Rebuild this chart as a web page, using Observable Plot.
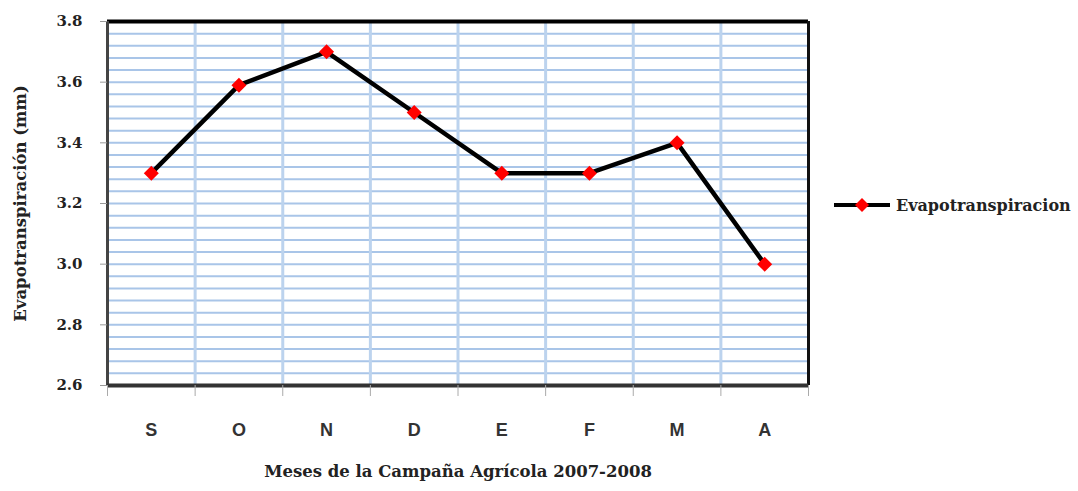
<!DOCTYPE html>
<html><head><meta charset="utf-8">
<script src="https://cdn.jsdelivr.net/npm/d3@7"></script>
<script src="https://cdn.jsdelivr.net/npm/@observablehq/plot@0.6"></script>
<style>
body{margin:0;background:#fff}
#c{position:relative;width:1078px;height:491px}
#legend{position:absolute;left:834px;top:195px;display:flex;align-items:center;font:bold 16px "DejaVu Serif";color:#222}
#legend svg{margin-right:6px}
</style></head><body>
<div id="c"></div>
<script>
const months = ["S","O","N","D","E","F","M","A"];
const evapo = [3.3, 3.59, 3.7, 3.5, 3.3, 3.3, 3.4, 3.0];
const yTicks = [2.6, 2.8, 3.0, 3.2, 3.4, 3.6, 3.8];
const seriesName = "Evapotranspiracion";
const yTitle = "Evapotranspiración (mm)";
const xTitle = "Meses de la Campaña Agrícola 2007-2008";

const data = months.map((m, i) => ({m, pos: i + 0.5, v: evapo[i]}));
const yMin = 2.6, yMax = 3.8;
const minorY = d3.range(0, 31).map(i => +(yMin + i * 0.04).toFixed(2));
const bandEdges = d3.range(0, months.length + 1);
const centers = months.map((m, i) => i + 0.5);

const chart = Plot.plot({
  width: 1078, height: 491,
  marginLeft: 107, marginRight: 270, marginTop: 21, marginBottom: 106,
  x: {type: "linear", domain: [0, months.length]},
  y: {domain: [yMin, yMax]},
  marks: [
    Plot.ruleY(minorY, {stroke: "#a9c5e8", strokeWidth: 2}),
    Plot.ruleX(bandEdges.slice(1, -1), {stroke: "#bcd3ee", strokeWidth: 3}),
    Plot.ruleY([yMax], {stroke: "#000", strokeWidth: 4}),
    Plot.ruleX([months.length], {stroke: "#111", strokeWidth: 3}),
    Plot.ruleX([0], {stroke: "#444", strokeWidth: 3}),
    Plot.ruleY([yMin], {stroke: "#333", strokeWidth: 4}),
    Plot.axisY(yTicks, {tickSize: 7, tickPadding: 18, tickFormat: d3.format(".1f"), stroke: "#999",
      fontFamily: "DejaVu Serif", fontWeight: "bold", fontSize: 15, fill: "#222", label: null}),
    Plot.axisX(bandEdges, {tickSize: 11, tickFormat: () => "", stroke: "#aaa", label: null}),
    Plot.axisX(centers, {tickSize: 0, tickPadding: 38, tickFormat: d => months[Math.floor(d)],
      fontFamily: "Liberation Sans", fontWeight: "bold", fontSize: 18, fill: "#333", label: null}),
    Plot.line(data, {x: "pos", y: "v", stroke: "#000", strokeWidth: 4.5}),
    Plot.dot(data, {x: "pos", y: "v", symbol: "square", rotate: 45, r: 6, fill: "#ff0000", stroke: "none"}),
    Plot.text([yTitle], {frameAnchor: "left", textAnchor: "middle", rotate: -90, dx: -87, fontFamily: "DejaVu Serif",
      fontWeight: "bold", fontSize: 16.5, fill: "#222"}),
    Plot.text([xTitle], {frameAnchor: "bottom", textAnchor: "middle", dy: 91, fontFamily: "DejaVu Serif",
      fontWeight: "bold", fontSize: 16.5, fill: "#222"})
  ]
});
const c = document.getElementById("c");
c.appendChild(chart);
const lg = document.createElement("div");
lg.id = "legend";
lg.innerHTML = `<svg width="56" height="20"><line x1="0" y1="10" x2="56" y2="10" stroke="#000" stroke-width="4"/><path d="M28,3 L35,10 L28,17 L21,10 Z" fill="#ff0000"/></svg><span>${seriesName}</span>`;
c.appendChild(lg);
</script></body></html>
